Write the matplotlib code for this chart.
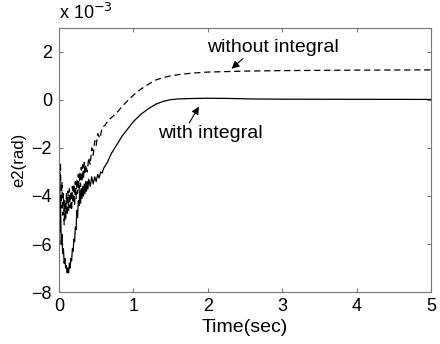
import numpy as np
import matplotlib
matplotlib.use("Agg")
import matplotlib.pyplot as plt

plt.rcParams['font.family'] = ['Liberation Sans', 'DejaVu Sans']

# with integral (values in units of 1e-3 rad)
t_with = [0.00, 0.005, 0.01, 0.015, 0.02, 0.03, 0.04, 0.05, 0.06, 0.07, 0.08, 0.09,
          0.10, 0.11, 0.12, 0.13, 0.14, 0.15, 0.16, 0.17, 0.18, 0.19, 0.20, 0.21,
          0.22, 0.23, 0.24, 0.25, 0.26, 0.27, 0.28, 0.29, 0.30, 0.31, 0.32, 0.33,
          0.34, 0.35, 0.36, 0.37, 0.38, 0.39, 0.40, 0.42, 0.44, 0.46, 0.48, 0.50,
          0.52, 0.54, 0.56, 0.58, 0.60, 0.65, 0.70, 0.75, 0.80, 0.85, 0.90, 1.00,
          1.10, 1.20, 1.30, 1.40, 1.50, 1.60, 1.80, 2.00, 2.30, 2.60, 3.00, 5.00]
e_with = [-2.0, -4.2, -3.0, -5.5, -4.0, -6.0, -5.6, -6.4, -6.2, -6.8, -6.6, -7.0,
          -6.9, -7.2, -7.0, -7.2, -6.8, -7.0, -6.6, -6.7, -6.2, -6.3, -5.8, -5.9,
          -5.3, -5.4, -4.6, -4.9, -4.2, -4.4, -3.8, -4.3, -3.7, -4.1, -3.6, -4.0,
          -3.5, -3.9, -3.4, -3.8, -3.4, -3.7, -3.3, -3.6, -3.2, -3.5, -3.2, -3.4,
          -3.1, -3.25, -3.0, -3.05, -2.85, -2.6, -2.25, -2.0, -1.75, -1.5, -1.3, -0.9,
          -0.6, -0.37, -0.18, -0.06, 0.01, 0.04, 0.06, 0.07, 0.06, 0.04, 0.03, 0.02]

# without integral
t_without = [0.00, 0.01, 0.02, 0.03, 0.04, 0.05, 0.06, 0.07, 0.08, 0.09, 0.10, 0.11,
             0.12, 0.13, 0.14, 0.15, 0.16, 0.17, 0.18, 0.19, 0.20, 0.21, 0.22, 0.23,
             0.24, 0.25, 0.26, 0.27, 0.28, 0.29, 0.30, 0.31, 0.32, 0.33, 0.34, 0.35,
             0.36, 0.38, 0.40, 0.42, 0.44, 0.46, 0.48, 0.50, 0.52, 0.55, 0.58, 0.62,
             0.66, 0.70, 0.75, 0.80, 0.85, 0.90, 1.00, 1.10, 1.20, 1.30, 1.40, 1.50,
             1.60, 1.80, 2.00, 2.50, 3.00, 4.00, 5.00]
e_without = [-2.0, -3.5, -2.6, -4.5, -3.4, -4.8, -3.9, -5.2, -4.2, -5.0, -3.9, -4.8,
             -3.8, -4.6, -3.7, -4.5, -3.8, -4.6, -3.6, -4.3, -3.5, -4.4, -3.4, -4.1,
             -3.3, -3.9, -3.1, -3.8, -3.0, -3.6, -2.8, -3.4, -2.7, -3.3, -2.6, -3.1,
             -2.7, -3.0, -2.4, -2.7, -2.0, -2.3, -1.7, -1.9, -1.4, -1.6, -1.15, -1.05,
             -0.85, -0.75, -0.62, -0.45, -0.27, -0.1, 0.2, 0.45, 0.65, 0.83, 0.93, 1.0,
             1.05, 1.12, 1.16, 1.2, 1.22, 1.24, 1.25]

fig = plt.figure(figsize=(4.4, 3.44), dpi=100)
ax = fig.add_axes([0.134, 0.151, 0.846, 0.768])

ax.plot(t_without, e_without, color='black', linestyle=(0, (5, 3)), linewidth=0.9)
ax.plot(t_with, e_with, color='black', linestyle='-', linewidth=0.9)

ax.set_xlim(0, 5)
ax.set_ylim(-8, 3)
ax.set_xticks([0, 1, 2, 3, 4, 5])
ax.set_yticks([-8, -6, -4, -2, 0, 2])
ax.tick_params(direction='in', top=True, right=True, labelsize=13, length=3,
               color='#777777')
ax.tick_params(axis='y', pad=5)
ax.tick_params(axis='x', pad=4)
for s in ax.spines.values():
    s.set_color('#777777')

ax.set_xlabel("Time(sec)", fontsize=14, labelpad=3)
ax.set_ylabel("e2(rad)", fontsize=12, labelpad=4)
ax.text(0.0, 1.02, r"x 10$^{-3}$", transform=ax.transAxes, fontsize=13,
        ha='left', va='bottom')

ax.text(2.88, 2.17, "without integral", fontsize=14, ha='center', va='center')
ax.annotate("", xy=(2.32, 1.3), xytext=(2.47, 1.72),
            arrowprops=dict(arrowstyle='-|>', color='black', lw=0.8,
                            mutation_scale=11, shrinkA=0, shrinkB=0))
ax.text(2.03, -1.38, "with integral", fontsize=14, ha='center', va='center')
ax.annotate("", xy=(1.88, -0.28), xytext=(1.75, -0.96),
            arrowprops=dict(arrowstyle='-|>', color='black', lw=0.8,
                            mutation_scale=11, shrinkA=0, shrinkB=0))

fig.savefig("out.png", dpi=100)
